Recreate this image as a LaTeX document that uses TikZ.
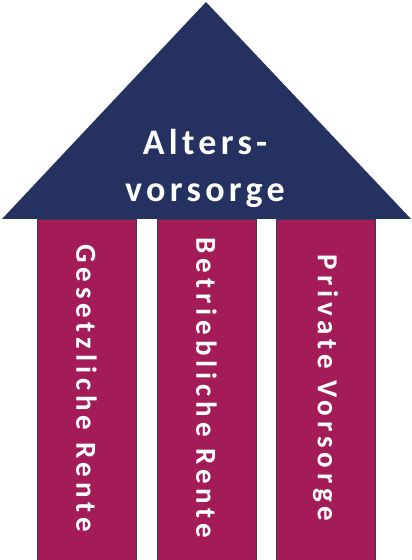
\documentclass[tikz,border=0pt]{standalone}
\usepackage{fontspec}
\setmainfont{Carlito}
\definecolor{roof}{HTML}{253160}
\definecolor{pillar}{HTML}{A31C57}
\definecolor{edge}{HTML}{3A3A55}
\tikzset{
  pillarbox/.style={fill=pillar, draw=edge, line width=0.8pt},
  pillartext/.style={text=white, font=\fontsize{29}{32}\selectfont\bfseries\addfontfeatures{LetterSpace=17}, rotate=-90, inner sep=0pt},
  rooftext/.style={text=white, font=\fontsize{36}{42}\selectfont\bfseries\addfontfeatures{LetterSpace=12}, anchor=base, inner sep=0pt}
}
\begin{document}
\begin{tikzpicture}[x=1pt,y=1pt]
\useasboundingbox (0,0) rectangle (412,560);
\draw[pillarbox] (37,0) rectangle (136,341);
\draw[pillarbox] (157,0) rectangle (256,341);
\draw[pillarbox] (276,0) rectangle (375,341);
\fill[roof] (2,341) -- (206,558) -- (411,341) -- cycle;
\node[rooftext] (roofA) at (205,405) {Alters-};
\node[rooftext] (roofB) at (205,358) {vorsorge};
\node[pillartext] (p1) at (86.5,172) {Gesetzliche Rente};
\node[pillartext] (p2) at (206.5,172) {Betriebliche Rente};
\node[pillartext] (p3) at (325.5,172) {Private Vorsorge};
\end{tikzpicture}
\end{document}
